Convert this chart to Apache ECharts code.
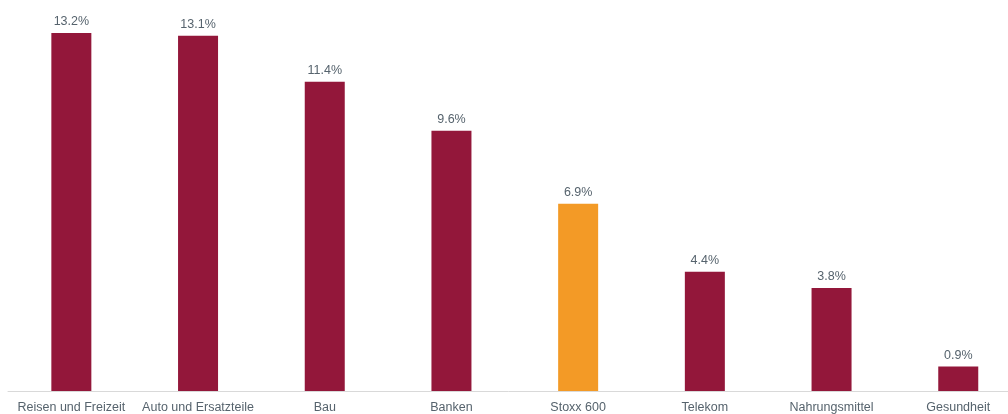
<!DOCTYPE html>
<html>
<head>
<meta charset="utf-8">
<script src="https://cdn.jsdelivr.net/npm/echarts@6/dist/echarts.min.js"></script>
<style>html,body{margin:0;padding:0;background:#fff}#c{width:1008px;height:414px}</style>
</head>
<body>
<div id="c"></div>
<script>
const categories = ["Reisen und Freizeit","Auto und Ersatzteile","Bau","Banken","Stoxx 600","Telekom","Nahrungsmittel","Gesundheit"];
const values = [13.2, 13.1, 11.4, 9.6, 6.9, 4.4, 3.8, 0.9];
const highlight = "Stoxx 600";
const mainColor = "#93173a";
const highlightColor = "#f39a26";

const chart = echarts.init(document.getElementById('c'), null, {renderer:'canvas'});
chart.setOption({
  animation: false,
  grid: {left: 8, width: 1013.6, top: 11.3, bottom: 23, containLabel: false, outerBoundsMode: 'none'},
  xAxis: {
    type: 'category', data: categories,
    axisLine: {lineStyle: {color: '#d9d9d9', width: 1}},
    axisTick: {show: false},
    axisLabel: {color: '#56636d', fontFamily: 'Liberation Sans, Arial, sans-serif', fontSize: 12.5, margin: 10, interval: 0}
  },
  yAxis: {type: 'value', min: 0, max: 14, show: false, splitLine: {show: false}},
  series: [{
    type: 'bar', barWidth: 40,
    data: values.map((v, i) => ({value: v, itemStyle: {color: categories[i] === highlight ? highlightColor : mainColor}})),
    label: {show: true, position: 'top', distance: 5, color: '#56636d', fontFamily: 'Liberation Sans, Arial, sans-serif', fontSize: 12.5,
      formatter: p => p.value.toFixed(1) + '%'}
  }]
});
</script>
</body>
</html>
